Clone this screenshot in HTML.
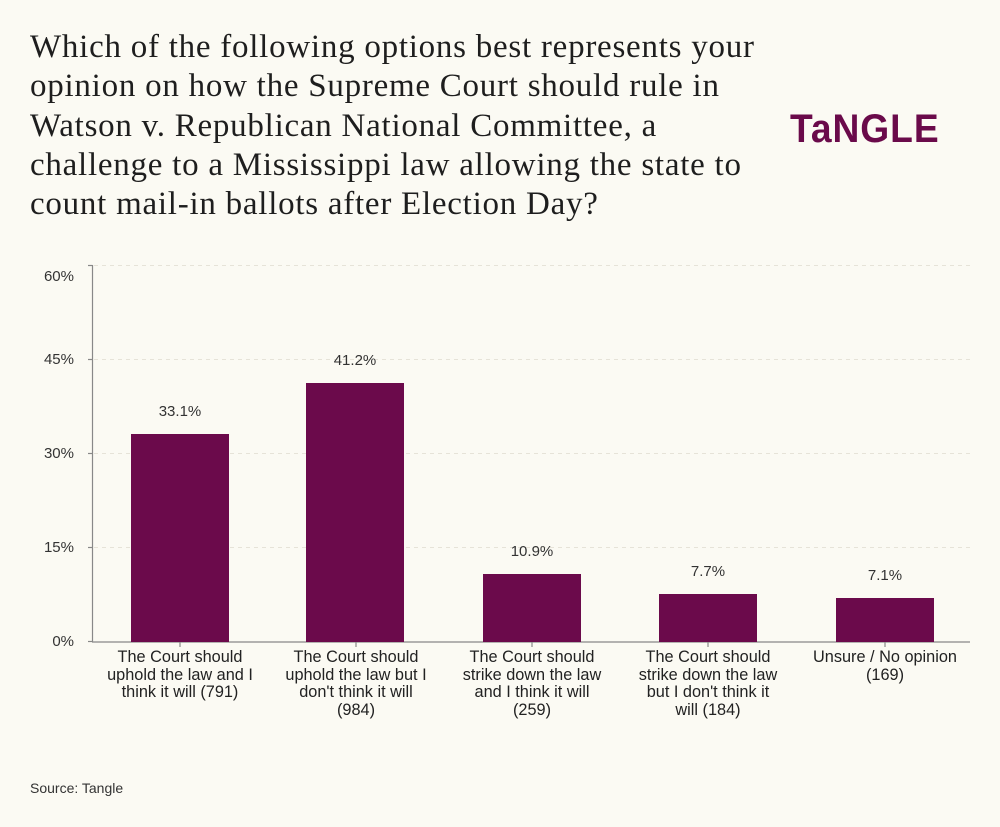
<!DOCTYPE html>
<html><head><meta charset="utf-8"><style>
body{margin:0;background:#fbfaf3;}
.w{position:relative;width:1000px;height:827px;background:#fbfaf3;overflow:hidden;font-family:"Liberation Sans",sans-serif;color:#222;}
h1{position:absolute;left:30px;top:28px;margin:0;font-family:"Liberation Serif",serif;font-weight:normal;font-size:33px;letter-spacing:0.75px;line-height:39.3px;color:#1e1e1e;white-space:nowrap;}
.logo{position:absolute;left:790px;top:107px;font-family:"Liberation Sans",sans-serif;font-weight:bold;font-size:40px;color:#6a0a4a;letter-spacing:1px;transform:scaleX(0.93);transform-origin:left;}
.yl{position:absolute;left:30px;width:44px;text-align:right;font-size:15px;color:#333;}
.bar{position:absolute;background:#6b0a4b;width:98px;}
.v{position:absolute;width:98px;text-align:center;font-size:15px;color:#333;}
.xl{position:absolute;width:170px;text-align:center;font-size:16.3px;line-height:17.5px;color:#222;top:649px;white-space:nowrap;}
.src{position:absolute;left:30px;top:780px;font-size:14px;color:#333;}
</style></head><body><div class="w">
<h1>Which of the following options best represents your<br>opinion on how the Supreme Court should rule in<br>Watson v. Republican National Committee, a<br>challenge to a Mississippi law allowing the state to<br>count mail-in ballots after Election Day?</h1>
<div class="logo">TaNGLE</div>
<svg style="position:absolute;left:0;top:0" width="1000" height="827">
<g stroke="#e6e3d8" stroke-dasharray="4,4" stroke-width="1">
<line x1="94" x2="970" y1="265.5" y2="265.5"/><line x1="94" x2="970" y1="359.5" y2="359.5"/><line x1="94" x2="970" y1="453.5" y2="453.5"/><line x1="94" x2="970" y1="547.5" y2="547.5"/></g>
<g stroke="#888" stroke-width="1.2">
<line x1="92.5" x2="92.5" y1="265" y2="642"/>
<line x1="88" x2="92.5" y1="265.5" y2="265.5"/><line x1="88" x2="92.5" y1="359.5" y2="359.5"/><line x1="88" x2="92.5" y1="453.5" y2="453.5"/><line x1="88" x2="92.5" y1="547.5" y2="547.5"/><line x1="88" x2="92.5" y1="641.5" y2="641.5"/>
<line x1="92" x2="970" y1="642" y2="642"/>
<line x1="180" x2="180" y1="642" y2="647"/><line x1="356" x2="356" y1="642" y2="647"/><line x1="532" x2="532" y1="642" y2="647"/><line x1="708" x2="708" y1="642" y2="647"/><line x1="885" x2="885" y1="642" y2="647"/>
</g></svg>
<div class="yl" style="top:268px">60%</div><div class="yl" style="top:351px">45%</div><div class="yl" style="top:445px">30%</div><div class="yl" style="top:539px">15%</div><div class="yl" style="top:633px">0%</div>
<div class="bar" style="left:131px;top:434px;height:208px"></div>
<div class="bar" style="left:306px;top:383px;height:259px"></div>
<div class="bar" style="left:483px;top:574px;height:68px"></div>
<div class="bar" style="left:659px;top:594px;height:48px"></div>
<div class="bar" style="left:836px;top:598px;height:44px"></div>
<div class="v" style="left:131px;top:403px">33.1%</div>
<div class="v" style="left:306px;top:352px">41.2%</div>
<div class="v" style="left:483px;top:543px">10.9%</div>
<div class="v" style="left:659px;top:563px">7.7%</div>
<div class="v" style="left:836px;top:567px">7.1%</div>
<div class="xl" style="left:95px">The Court should<br>uphold the law and I<br>think it will (791)</div>
<div class="xl" style="left:271px">The Court should<br>uphold the law but I<br>don't think it will<br>(984)</div>
<div class="xl" style="left:447px">The Court should<br>strike down the law<br>and I think it will<br>(259)</div>
<div class="xl" style="left:623px">The Court should<br>strike down the law<br>but I don't think it<br>will (184)</div>
<div class="xl" style="left:800px">Unsure / No opinion<br>(169)</div>
<div class="src">Source: Tangle</div>
</div></body></html>
